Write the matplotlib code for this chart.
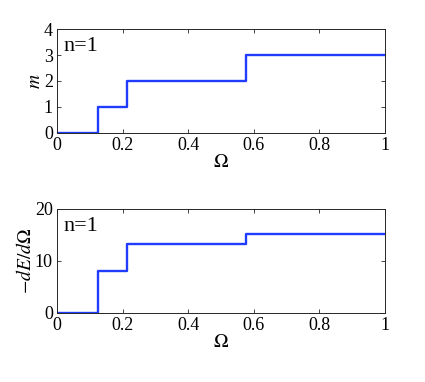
import matplotlib.pyplot as plt
import numpy as np

# step data
omega_edges = [0.0, 0.125, 0.212, 0.577, 1.0]
m_vals = [0, 1, 2, 3, 3]
dEdW_vals = [0.05, 8.0, 13.2, 15.1, 15.1]

plt.rcParams['font.family'] = ['Liberation Serif', 'DejaVu Serif']
plt.rcParams['mathtext.fontset'] = 'stix'
plt.rcParams['font.size'] = 13

fig = plt.figure(figsize=(4.25, 3.82), dpi=100)
ax1 = fig.add_axes([0.134, 0.652, 0.772, 0.272])
ax2 = fig.add_axes([0.134, 0.181, 0.772, 0.272])

blue = '#1f3cff'

for ax, vals, ylim, yt, ylab in [
    (ax1, m_vals, (0, 4), [0, 1, 2, 3, 4], r'$m$'),
    (ax2, dEdW_vals, (0, 20), [0, 10, 20], r'$-dE/d\Omega$'),
]:
    ax.step(omega_edges, vals, where='post', color=blue, lw=1.7)
    ax.set_xlim(0, 1)
    ax.set_ylim(*ylim)
    ax.set_yticks(yt)
    ax.set_xticks([0, 0.2, 0.4, 0.6, 0.8, 1])
    ax.set_xticklabels(['0', '0.2', '0.4', '0.6', '0.8', '1'])
    ax.tick_params(direction='in', top=True, right=True, length=3, width=0.6,
                   colors='#262626', labelcolor='black')
    ax.tick_params(axis='x', pad=3)
    ax.tick_params(axis='y', pad=3)
    for s in ax.spines.values():
        s.set_linewidth(0.7)
        s.set_color('#262626')
    ax.set_xlabel(r'$\Omega$', labelpad=0, fontsize=14)
    ax.set_ylabel(ylab, labelpad=0, fontsize=14)
    ax.text(0.02, 0.92, 'n=1', transform=ax.transAxes, va='top', ha='left', fontsize=16)

fig.savefig('out.png', dpi=100)
